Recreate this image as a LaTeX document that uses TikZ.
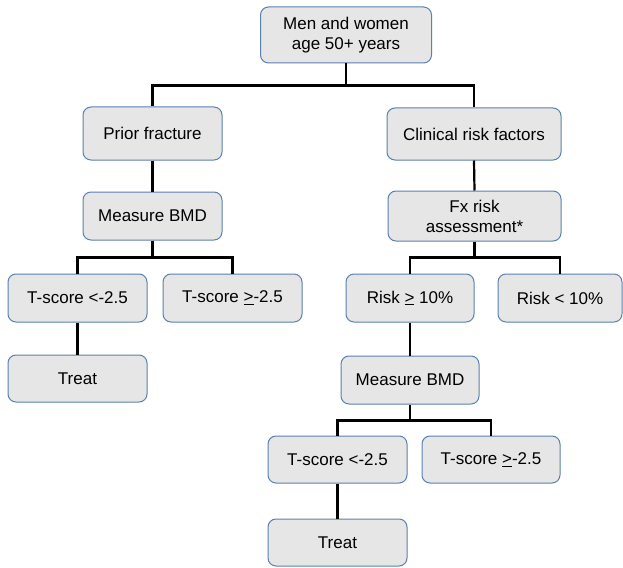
\documentclass[tikz,border=0pt]{standalone}
\usepackage{fontspec}
\setmainfont{Liberation Sans}
\definecolor{boxfill}{HTML}{E6E6E6}
\definecolor{boxline}{HTML}{5A80B0}
\begin{document}
\begin{tikzpicture}[x=1pt,y=-1pt,
  box/.style={draw=boxline, fill=boxfill, line width=1pt, rounded corners=8pt,
    align=center, inner sep=0pt, font=\fontsize{17}{20}\selectfont},
  conn/.style={draw=black, line width=2.2pt}]
\useasboundingbox (0,0) rectangle (623,567);
\node[box, minimum width=171pt, minimum height=56pt] (top) at (346,35) {Men and women\\age 50+ years};
\node[box, minimum width=139pt, minimum height=53pt] (prior) at (152.5,133.5) {Prior fracture};
\node[box, minimum width=174pt, minimum height=52pt] (clin) at (474,134) {Clinical risk factors};
\node[box, minimum width=139pt, minimum height=48pt] (bmdL) at (152.5,216) {Measure BMD};
\node[box, minimum width=173pt, minimum height=50pt] (fx) at (474.5,216) {Fx risk\\assessment*};
\node[box, minimum width=139pt, minimum height=48pt] (tL1) at (77.5,298) {T-score <-2.5};
\node[box, minimum width=139pt, minimum height=48pt] (tL2) at (232.5,298) {T-score \underline{>}-2.5};
\node[box, minimum width=139pt, minimum height=47pt] (treatL) at (77.5,378.5) {Treat};
\node[box, minimum width=128pt, minimum height=48pt] (risk1) at (410,298) {Risk \underline{>} 10\%};
\node[box, minimum width=124pt, minimum height=48pt] (risk2) at (560,298) {Risk < 10\%};
\node[box, minimum width=138pt, minimum height=48pt] (bmdR) at (410,380) {Measure BMD};
\node[box, minimum width=139pt, minimum height=47pt] (tR1) at (337.5,459.5) {T-score <-2.5};
\node[box, minimum width=138pt, minimum height=47pt] (tR2) at (491,459.5) {T-score \underline{>}-2.5};
\node[box, minimum width=139pt, minimum height=47pt] (treatR) at (337.5,542.5) {Treat};
\begin{scope}[conn]
\draw (top.south) -- ++(0,22) -| (prior.north);
\draw (top.south) -- ++(0,22) -| (clin.north);
\draw (prior.south) -- (bmdL.north);
\draw (clin.south) -- (fx.north);
\draw (bmdL.south) -- ++(0,17) -| (tL1.north);
\draw (bmdL.south) -- ++(0,17) -| (tL2.north);
\draw (tL1.south) -- (treatL.north);
\draw (fx.south) -- ++(0,16) -| (risk1.north);
\draw (fx.south) -- ++(0,16) -| (risk2.north);
\draw (risk1.south) -- (bmdR.north);
\draw (bmdR.south) -- ++(0,16) -| (tR1.north);
\draw (bmdR.south) -- ++(0,16) -| (tR2.north);
\draw (tR1.south) -- (treatR.north);
\end{scope}
\end{tikzpicture}
\end{document}
